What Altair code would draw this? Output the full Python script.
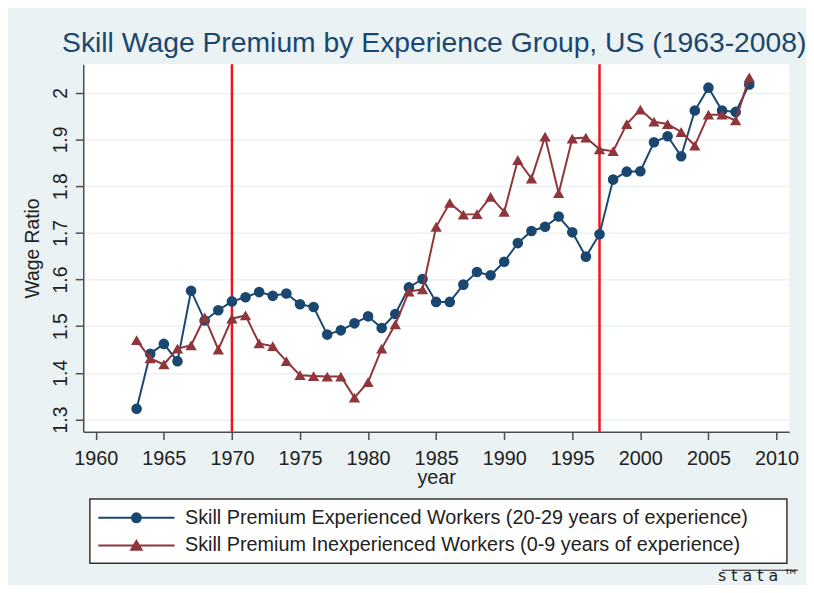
import altair as alt
import pandas as pd

years = [1963, 1964, 1965, 1966, 1967, 1968, 1969, 1970, 1971, 1972, 1973, 1974,
         1975, 1976, 1977, 1978, 1979, 1980, 1981, 1982, 1983, 1984, 1985, 1986,
         1987, 1988, 1989, 1990, 1991, 1992, 1993, 1994, 1995, 1996, 1997, 1998,
         1999, 2000, 2001, 2002, 2003, 2004, 2005, 2006, 2007, 2008]

experienced = [1.323, 1.441, 1.462, 1.425, 1.576, 1.512, 1.534, 1.553, 1.562, 1.573,
               1.565, 1.570, 1.547, 1.541, 1.482, 1.491, 1.506, 1.521, 1.496, 1.526,
               1.583, 1.601, 1.552, 1.552, 1.589, 1.616, 1.609, 1.638, 1.678, 1.704,
               1.713, 1.735, 1.701, 1.649, 1.697, 1.814, 1.831, 1.832, 1.894, 1.907,
               1.864, 1.962, 2.011, 1.962, 1.959, 2.018]

inexperienced = [1.470, 1.431, 1.418, 1.452, 1.459, 1.519, 1.450, 1.516, 1.523, 1.463,
                 1.457, 1.425, 1.395, 1.393, 1.392, 1.392, 1.347, 1.380, 1.452, 1.504,
                 1.574, 1.579, 1.713, 1.764, 1.739, 1.740, 1.777, 1.745, 1.856, 1.816,
                 1.906, 1.785, 1.902, 1.904, 1.879, 1.875, 1.933, 1.964, 1.938, 1.933,
                 1.916, 1.887, 1.953, 1.953, 1.941, 2.033]

series_names = ["Skill Premium Experienced Workers (20-29 years of experience)",
                "Skill Premium Inexperienced Workers (0-9 years of experience)"]
series_colors = ["#1A476F", "#90353B"]
series_shapes = ["circle", "triangle-up"]
series_sizes = [115, 130]
event_years = [1970, 1997]
x_ticks = [1960, 1965, 1970, 1975, 1980, 1985, 1990, 1995, 2000, 2005, 2010]
y_ticks = [1.3, 1.4, 1.5, 1.6, 1.7, 1.8, 1.9, 2.0]

title_text = "Skill Wage Premium by Experience Group, US (1963-2008)"
logo_text = ["s t a t a ™"]
FONT = "Liberation Sans"
BG = "#EAF2F3"
INK = "#222222"
AXIS = "#4D4D4D"

df = pd.DataFrame({
    "year": years + years,
    "ratio": experienced + inexperienced,
    "series": [series_names[0]] * len(years) + [series_names[1]] * len(years),
})
events = pd.DataFrame({"year": event_years})

x_scale = alt.Scale(domain=[1959.08, 2010.93], nice=False, zero=False)
y_scale = alt.Scale(domain=[1.274, 2.061], nice=False, zero=False)
color_scale = alt.Scale(domain=series_names, range=series_colors)
# legend key: line with marker; the trailing move-to widens the legend frame
legend_paths = [
    "M-3.85,0L3.85,0M0.45,0A0.45,0.45,0,1,1,-0.45,0A0.45,0.45,0,1,1,0.45,0ZM64.5,0",
    "M-3.85,0L3.85,0M0,-0.45L0.52,0.42L-0.52,0.42ZM64.5,0",
]
shape_scale = alt.Scale(domain=series_names, range=legend_paths)

x_axis = alt.Axis(values=x_ticks, format="d", title="year", grid=False,
                  tickSize=8, tickWidth=1.5, tickColor=AXIS,
                  domainColor=AXIS, domainWidth=1.5,
                  labelFont=FONT, labelFontSize=20, labelColor=INK,
                  labelPadding=9, labelFlush=False, labelOverlap=False,
                  titleFont=FONT, titleFontSize=20, titleFontWeight="normal",
                  titleColor=INK, titleY=52, titleBaseline="alphabetic")
y_axis = alt.Axis(values=y_ticks, format=".1~f", title="Wage Ratio", grid=True,
                  gridColor=BG, gridWidth=1.5,
                  tickSize=8, tickWidth=1.5, tickColor=AXIS,
                  domainColor=AXIS, domainWidth=1.5,
                  labelFont=FONT, labelFontSize=19.5, labelColor=INK,
                  labelAngle=270, labelAlign="center", labelBaseline="alphabetic",
                  labelPadding=9, labelFlush=False, labelOverlap=False,
                  titleFont=FONT, titleFontSize=19.5, titleFontWeight="normal",
                  titleColor=INK, titleAngle=270, titleX=-45, titleY=185.5,
                  titleAlign="center", titleBaseline="alphabetic")

x_enc = alt.X("year:Q", scale=x_scale, axis=x_axis)
y_enc = alt.Y("ratio:Q", scale=y_scale, axis=y_axis)

legend = alt.Legend(title=None, orient="none", legendX=6.7, legendY=439,
                    direction="vertical", fillColor="white", strokeColor="#333333",
                    padding=8, rowPadding=7, symbolSize=400, symbolStrokeWidth=2,
                    symbolOffset=28, labelOffset=38, symbolOpacity=1,
                    labelFont=FONT, labelFontSize=20, labelColor=INK, labelLimit=900)

rules = alt.Chart(events).mark_rule(color="#F0141E", strokeWidth=2.5).encode(x=x_enc)

layers = [rules]
for name, col, shp, sz in zip(series_names, series_colors, series_shapes, series_sizes):
    base = alt.Chart(df).transform_filter(alt.datum.series == name)
    layers.append(base.mark_line(strokeWidth=2, color=col).encode(x=x_enc, y=y_enc))
    layers.append(base.mark_point(filled=True, opacity=1, strokeWidth=0, color=col,
                                  shape=shp, size=sz).encode(x=x_enc, y=y_enc))

legend_layer = alt.Chart(df).transform_filter(alt.datum.year < 0).mark_point(
    filled=True, opacity=1, strokeWidth=2
).encode(
    x=x_enc, y=y_enc,
    fill=alt.Fill("series:N", scale=color_scale, legend=legend),
    stroke=alt.Stroke("series:N", scale=color_scale, legend=legend),
    shape=alt.Shape("series:N", scale=shape_scale, legend=legend),
)
layers.append(legend_layer)

logo_df = pd.DataFrame({"t": logo_text})
layers.append(alt.Chart(logo_df).mark_text(
    font="DejaVu Sans", fontSize=16, color=INK, align="center", baseline="alphabetic"
).encode(x=alt.value(682), y=alt.value(522), text="t:N"))
layers.append(alt.Chart(logo_df).mark_rule(color=INK, strokeWidth=1).encode(
    x=alt.value(645), x2=alt.value(722), y=alt.value(511)))

chart = alt.layer(*layers).properties(
    width=713, height=371,
    autosize=alt.AutoSizeParams(type="none"),
    padding={"left": 76, "top": 54, "right": 17, "bottom": 152},
    background=BG,
    title=alt.TitleParams(text=title_text, font=FONT, fontSize=28.6,
                          fontWeight="normal", color="#1A476F", anchor="middle",
                          frame="group", offset=3, dx=-2, dy=20,
                          baseline="alphabetic"),
).configure_view(fill="white", strokeWidth=0).configure_legend(strokeWidth=1.5)

chart.save("out.html", embed_options={"renderer": "svg", "actions": False})
